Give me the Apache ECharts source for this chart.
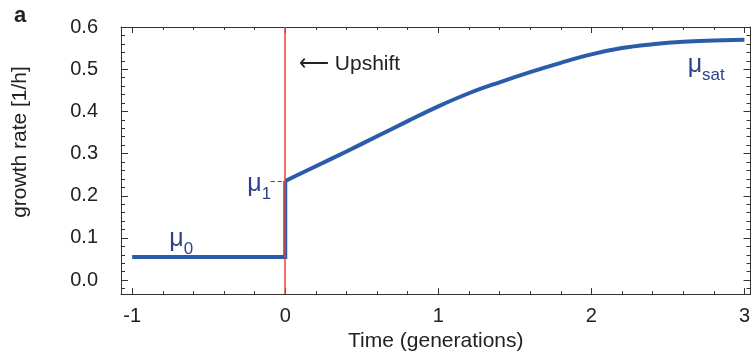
<!DOCTYPE html>
<html>
<head>
<meta charset="utf-8">
<script src="https://cdn.jsdelivr.net/npm/echarts@6/dist/echarts.min.js"></script>
<style>
  html, body { margin: 0; padding: 0; background: #fff; }
  #chart { width: 753px; height: 357px; }
</style>
</head>
<body>
<div id="chart"></div>
<script>
// basal growth before the shift, then the jump to mu_1
const basalTime = [-1, 0, 0];
const basalRate = [0.055, 0.055, 0.235];

// relaxation after the upshift
const upshiftTime = [0, 0.2, 0.4, 0.6, 0.8, 1.0, 1.2, 1.4, 1.6, 1.8, 2.0, 2.2, 2.4, 2.6, 2.8, 3.0];
const upshiftRate = [0.235, 0.270, 0.305, 0.341, 0.377, 0.412, 0.443, 0.469, 0.493, 0.515, 0.535, 0.550, 0.559, 0.565, 0.568, 0.570];

const xTickLabels = [-1, 0, 1, 2, 3];
const yTickLabels = [0.0, 0.1, 0.2, 0.3, 0.4, 0.5, 0.6];
const xMinorTicks = [-1, -0.8, -0.6, -0.4, -0.2, 0, 0.2, 0.4, 0.6, 0.8, 1, 1.2, 1.4, 1.6, 1.8, 2, 2.2, 2.4, 2.6, 2.8, 3];
const yMinorTicks = [-0.02, 0, 0.02, 0.04, 0.06, 0.08, 0.1, 0.12, 0.14, 0.16, 0.18, 0.2, 0.22, 0.24, 0.26, 0.28, 0.3,
  0.32, 0.34, 0.36, 0.38, 0.4, 0.42, 0.44, 0.46, 0.48, 0.5, 0.52, 0.54, 0.56, 0.58, 0.6];

const FONT = "'Liberation Sans', Arial, sans-serif";
const TEXT = "#222";
const AXIS_COLOR = "#333";
const LINE_BLUE = "#2a5ca9";
const LABEL_BLUE = "#2d3f90";
const RED = "#e8403a";

const X_MIN = -1.073, X_MAX = 3.04;
const Y_MIN = -0.033, Y_MAX = 0.6;

// frame axes: ticks drawn inward on all four sides
function frameAxis(kind, position, ticks, len, withLine, extra) {
  return Object.assign({
    type: "value",
    position: position,
    min: kind === "x" ? X_MIN : Y_MIN,
    max: kind === "x" ? X_MAX : Y_MAX,
    axisLine: { show: withLine, onZero: false, lineStyle: { color: AXIS_COLOR, width: 1 } },
    axisTick: { show: true, inside: true, length: len, customValues: ticks, lineStyle: { color: AXIS_COLOR, width: 1 } },
    axisLabel: { show: false },
    splitLine: { show: false },
  }, extra || {});
}

const muLabel = (main, sub) => ({
  show: true,
  position: "inside",
  formatter: "{m|" + main + "}{s|" + sub + "}",
  rich: {
    m: { fontSize: 25, lineHeight: 38, color: LABEL_BLUE, fontFamily: FONT, verticalAlign: "middle" },
    s: { fontSize: 17, lineHeight: 17, color: LABEL_BLUE, fontFamily: FONT, verticalAlign: "bottom" },
  },
});

const chart = echarts.init(document.getElementById("chart"), null, { renderer: "canvas" });

const option = {
  animation: false,
  title: {
    text: "a",
    left: 9,
    top: 0,
    textStyle: { fontFamily: FONT, fontSize: 22, fontWeight: "bold", color: TEXT },
  },
  graphic: [{
    type: "text",
    x: 20,
    y: 142,
    rotation: Math.PI / 2,
    style: {
      text: "growth rate [1/h]",
      fontFamily: FONT,
      fontSize: 21,
      fill: TEXT,
      align: "center",
      verticalAlign: "middle",
    },
  }],
  grid: { left: 121, right: 2, top: 27, bottom: 59, containLabel: false },
  xAxis: [
    frameAxis("x", "bottom", xTickLabels, 6, true, {
      name: "Time (generations)",
      nameLocation: "middle",
      nameGap: 34,
      nameTextStyle: { fontFamily: FONT, fontSize: 21, color: TEXT },
      axisLabel: { show: true, customValues: xTickLabels, margin: 12, fontFamily: FONT, fontSize: 20, color: TEXT },
    }),
    frameAxis("x", "bottom", xMinorTicks, 3, false),
    frameAxis("x", "top", xTickLabels, 6, true),
    frameAxis("x", "top", xMinorTicks, 3, false),
  ],
  yAxis: [
    frameAxis("y", "left", yTickLabels, 7, true, {
      axisLabel: {
        show: true, customValues: yTickLabels, margin: 23, fontFamily: FONT, fontSize: 20, color: TEXT,
        formatter: (v) => v.toFixed(1),
      },
    }),
    frameAxis("y", "left", yMinorTicks, 4, false),
    frameAxis("y", "right", yTickLabels, 7, true),
    frameAxis("y", "right", yMinorTicks, 4, false),
  ],
  series: [
    {
      name: "basal",
      type: "line",
      xAxisIndex: 0,
      yAxisIndex: 0,
      data: basalTime.map((t, i) => [t, basalRate[i]]),
      showSymbol: false,
      lineStyle: { color: LINE_BLUE, width: 4, join: "miter" },
      markLine: {
        silent: true,
        symbol: ["none", "none"],
        label: { show: false },
        data: [
          [{ coord: [-0.095, 0.235] }, { coord: [-0.01, 0.235] }],
        ],
        lineStyle: { color: LABEL_BLUE, width: 1, type: [4, 3] },
      },
      markPoint: {
        silent: true,
        symbol: "circle",
        symbolSize: 0,
        data: [
          { coord: [-0.68, 0.097], label: muLabel("μ", "0") },
          { coord: [-0.17, 0.228], label: muLabel("μ", "1") },
        ],
      },
    },
    {
      name: "upshift",
      type: "line",
      xAxisIndex: 0,
      yAxisIndex: 0,
      data: upshiftTime.map((t, i) => [t, upshiftRate[i]]),
      smooth: 0.4,
      showSymbol: false,
      lineStyle: { color: LINE_BLUE, width: 4 },
      markPoint: {
        silent: true,
        symbol: "circle",
        symbolSize: 0,
        data: [
          { coord: [2.75, 0.51], label: muLabel("μ", "sat") },
          {
            coord: [0.09, 0.512],
            label: {
              show: true, position: "right", distance: 0,
              formatter: "⟵ Upshift",
              fontFamily: FONT, fontSize: 21, color: TEXT,
            },
          },
        ],
      },
      markLine: {
        silent: true,
        symbol: ["none", "none"],
        label: { show: false },
        data: [{ xAxis: 0 }],
        lineStyle: { color: RED, width: 1.5, type: "solid" },
      },
      z: 3,
    },
  ],
};

chart.setOption(option);
</script>
</body>
</html>
